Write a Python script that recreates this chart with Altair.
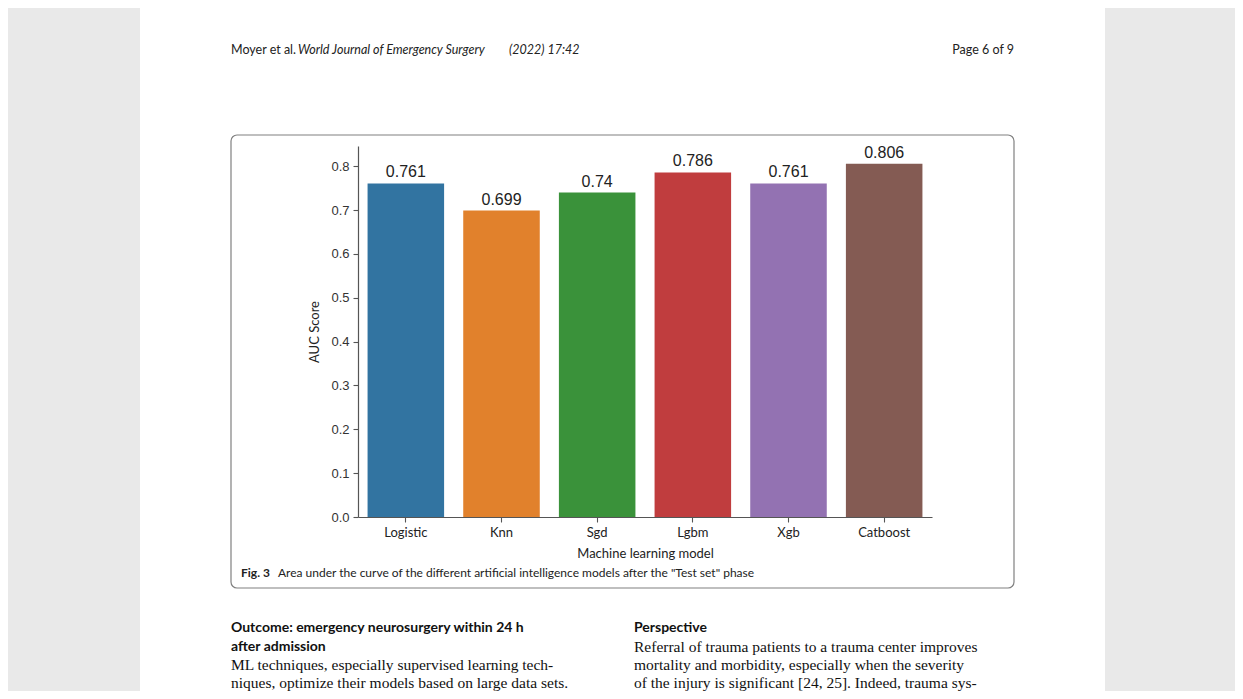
import altair as alt
import pandas as pd

# ---- data ----
models = ["Logistic", "Knn", "Sgd", "Lgbm", "Xgb", "Catboost"]
auc = [0.761, 0.699, 0.74, 0.786, 0.761, 0.806]
colors = ["#3274a1", "#e1812c", "#3a923a", "#c03d3e", "#9372b2", "#845b53"]
y_ticks = [0.0, 0.1, 0.2, 0.3, 0.4, 0.5, 0.6, 0.7, 0.8]

header_left = "Moyer et al. "
header_journal = "World Journal of Emergency Surgery"
header_mid = "(2022) 17:42"
header_right = "Page 6 of 9"
caption_bold = "Fig. 3"
caption_text = 'Area under the curve of the different artificial intelligence models after the "Test set" phase'
left_heading = ["Outcome: emergency neurosurgery within 24 h", "after admission"]
left_body = ["ML techniques, especially supervised learning tech-",
             "niques, optimize their models based on large data sets."]
right_heading = ["Perspective"]
right_body = ["Referral of trauma patients to a trauma center improves",
              "mortality and morbidity, especially when the severity",
              "of the injury is significant [24, 25]. Indeed, trauma sys-"]

df = pd.DataFrame({"model": models, "auc": auc})

W, H = 574, 371          # plot area
OX, OY = 358, 146        # plot origin on the page (screen px)

x_enc = alt.X("model:N", sort=models, title="Machine learning model",
              scale=alt.Scale(paddingInner=0.2, paddingOuter=0.1),
              axis=alt.Axis(labelAngle=0, labelFont="Lato", labelFontSize=13,
                            labelColor="#222", titleFont="Lato", titleFontSize=13,
                            titleColor="#222", titleFontWeight="normal",
                            titlePadding=8, labelPadding=4, tickSize=5,
                            domainColor="#555", tickColor="#555",
                            domainWidth=1.2, tickWidth=1.1, zindex=1))
y_enc = alt.Y("auc:Q", title="AUC Score",
              scale=alt.Scale(domain=[0, 0.8463], nice=False, zero=True),
              axis=alt.Axis(values=y_ticks, format=".1f", grid=False,
                            labelFont="Liberation Sans", labelFontSize=13,
                            labelColor="#333", titleFont="Lato", titleFontSize=13,
                            titleColor="#222", titleFontWeight="normal",
                            titlePadding=9, labelPadding=4, tickSize=5,
                            domainColor="#555", tickColor="#555",
                            domainWidth=1.2, tickWidth=1.1, zindex=1))

bars = alt.Chart(df).mark_bar().encode(
    x=x_enc, y=y_enc,
    color=alt.Color("model:N", sort=models,
                    scale=alt.Scale(domain=models, range=colors), legend=None),
)
labels = alt.Chart(df).mark_text(
    baseline="bottom", dy=-3, font="Liberation Sans", fontSize=16, color="#222"
).encode(x=alt.X("model:N", sort=models), y="auc:Q", text="auc:Q")


def blank():
    return alt.Chart(alt.Data(values=[{}]))


def txt(s, sx, sy, font="Lato", size=12, weight="normal", style="normal",
        align="left", color="#222"):
    return blank().mark_text(
        text=s, font=font, fontSize=size, fontWeight=weight, fontStyle=style,
        align=align, baseline="middle", color=color
    ).encode(x=alt.value(sx - OX), y=alt.value(sy - OY))


page = blank().mark_rect(fill="white").encode(
    x=alt.value(140 - OX), x2=alt.value(1105 - OX),
    y=alt.value(-OY - 20), y2=alt.value(720 - OY))
box = blank().mark_rect(fillOpacity=0, stroke="#808080", strokeWidth=1.2,
                        cornerRadius=6).encode(
    x=alt.value(231 - OX), x2=alt.value(1014 - OX),
    y=alt.value(135 - OY), y2=alt.value(588 - OY))

deco = [
    txt(header_left, 231, 50, size=12.5),
    txt(header_journal, 298, 50, size=12.5, style="italic"),
    txt(header_mid, 509, 50, size=12.5, style="italic"),
    txt(header_right, 1014, 50, size=12.5, align="right"),
    txt(caption_bold, 241, 573, size=12, weight="bold"),
    txt(caption_text, 278, 573, size=12),
]
for i, s in enumerate(left_heading):
    deco.append(txt(s, 231, 628 + 19 * i, size=14, weight="bold", color="#111"))
for i, s in enumerate(left_body):
    deco.append(txt(s, 231, 665 + 18 * i, font="Liberation Serif", size=15.5, color="#111"))
for i, s in enumerate(right_heading):
    deco.append(txt(s, 634, 628 + 19 * i, size=14, weight="bold", color="#111"))
for i, s in enumerate(right_body):
    deco.append(txt(s, 634, 647 + 18 * i, font="Liberation Serif", size=15.5, color="#111"))

chart = alt.layer(page, box, bars, labels, *deco).properties(
    width=W, height=H,
    background="#e9e9e9",
    autosize=alt.AutoSizeParams(type="none"),
    padding={"left": OX - 8, "top": OY - 8,
             "right": 1227 - (OX - 8) - W, "bottom": 683 - (OY - 8) - H},
).configure_view(stroke=None)

chart.save("out.html", embed_options={"renderer": "svg", "actions": False})
